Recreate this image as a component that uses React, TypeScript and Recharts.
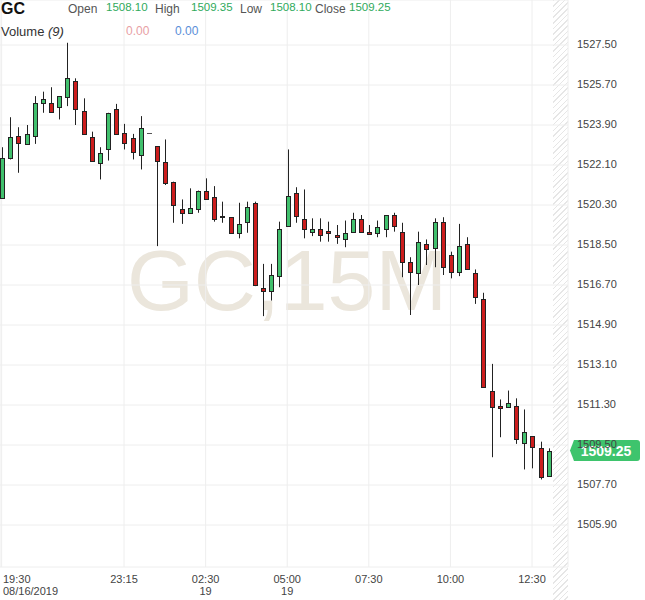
import React from 'react';
import { ComposedChart, Bar, XAxis, YAxis, CartesianGrid, ReferenceLine } from 'recharts';

const opens = [
  1520.6, 1522.4, 1523.4, 1523.05, 1523.4, 1524.9, 1524.9, 1524.7, 1525.15, 1525.9,
  1524.55, 1523.35, 1522.2, 1522.8, 1524.6, 1523.55, 1523.3, 1522.55, 1523.5, 1522.95,
  1522.25, 1521.35, 1520.1, 1519.95, 1520.1, 1520.95, 1520.65, 1519.8, 1519.75, 1519.05,
  1519.55, 1520.4, 1516.55, 1516.45, 1517.1, 1519.35, 1520.85, 1519.65, 1519.1, 1519.2,
  1519.15, 1518.95, 1518.75, 1519.1, 1519.65, 1519.1, 1519.05, 1519.2, 1519.85, 1519.1,
  1517.75, 1517.25, 1518.55, 1518.35, 1519.55, 1518.05, 1517.3, 1518.55, 1517.25, 1516.05,
  1511.95, 1511.25, 1511.2, 1511.25, 1509.6, 1509.9, 1509.35, 1508.1,
];
const highs = [
  1522.9, 1524.25, 1523.8, 1523.9, 1525.2, 1525.4, 1525.6, 1525.2, 1527.6, 1526.0,
  1525.1, 1523.6, 1522.9, 1524.45, 1524.85, 1523.95, 1523.5, 1524.3, 1523.52, 1522.95,
  1523.25, 1521.35, 1520.55, 1521.05, 1520.95, 1521.5, 1521.15, 1520.45, 1519.75, 1520.4,
  1520.45, 1520.45, 1517.65, 1517.65, 1519.55, 1522.8, 1521.1, 1521.0, 1519.7, 1519.7,
  1519.55, 1519.4, 1519.6, 1519.95, 1519.85, 1519.4, 1519.6, 1519.85, 1519.95, 1519.5,
  1517.95, 1519.1, 1518.75, 1519.7, 1519.75, 1518.2, 1519.45, 1518.85, 1517.4, 1516.35,
  1513.15, 1511.55, 1511.95, 1511.6, 1511.1, 1509.9, 1509.65, 1509.35,
];
const lows = [
  1520.6, 1522.35, 1521.75, 1523.0, 1523.05, 1524.45, 1524.5, 1524.15, 1524.75, 1523.9,
  1523.5, 1522.3, 1521.45, 1522.3, 1523.45, 1522.8, 1522.35, 1521.9, 1523.48, 1518.45,
  1521.2, 1519.5, 1519.45, 1519.9, 1519.95, 1520.55, 1519.55, 1519.5, 1519.0, 1518.8,
  1519.05, 1516.65, 1515.3, 1516.0, 1516.6, 1519.35, 1519.5, 1518.8, 1518.9, 1518.65,
  1518.65, 1518.55, 1518.4, 1519.1, 1519.05, 1519.0, 1518.85, 1518.85, 1519.1, 1517.05,
  1515.35, 1516.7, 1517.6, 1517.5, 1517.15, 1517.0, 1517.1, 1517.4, 1515.85, 1512.1,
  1508.95, 1509.85, 1511.2, 1509.55, 1508.4, 1508.45, 1507.95, 1508.1,
];
const closes = [
  1522.4, 1523.35, 1523.1, 1523.5, 1524.9, 1525.05, 1524.5, 1525.2, 1526.0, 1524.6,
  1523.5, 1522.3, 1522.65, 1524.45, 1523.5, 1523.1, 1522.7, 1523.75, 1523.5, 1522.3,
  1521.3, 1520.3, 1519.95, 1520.15, 1520.95, 1520.55, 1519.65, 1519.75, 1519.05, 1519.45,
  1520.2, 1516.7, 1516.45, 1517.15, 1519.2, 1520.7, 1519.8, 1519.2, 1519.2, 1518.95,
  1519.05, 1518.85, 1519.05, 1519.65, 1519.1, 1519.0, 1519.3, 1519.85, 1519.35, 1517.75,
  1517.3, 1518.65, 1518.3, 1519.55, 1517.5, 1517.3, 1518.45, 1517.4, 1516.15, 1512.1,
  1511.2, 1511.15, 1511.4, 1509.75, 1510.1, 1509.4, 1508.05, 1509.25,
];

const timeTickIndex = [0, 15, 25, 35, 45, 55, 65];
const timeTickLabels = ['19:30', '23:15', '02:30', '05:00', '07:30', '10:00', '12:30'];
const dateTickLabels = ['08/16/2019', '', '19', '19', '', '', ''];
const priceTicks = [1505.9, 1507.7, 1509.5, 1511.3, 1513.1, 1514.9, 1516.7, 1518.5, 1520.3, 1522.1, 1523.9, 1525.7, 1527.5];

const data = opens.map((o, i) => ({ i, o, h: highs[i], l: lows[i], c: closes[i], range: [lows[i], highs[i]] }));
const last = data[data.length - 1];

const GREEN = '#41c06d';
const RED = '#cc1d1d';
const FONT = 'Arial, "Liberation Sans", sans-serif';

const Candle = (props: any) => {
  const { x, y, width, height, payload } = props;
  if (x == null || y == null || !payload) return null;
  const cx = Math.round(x + width / 2) + 0.5;
  const { o, h, l, c } = payload;
  const span = h - l;
  const k = span > 0 ? height / span : 0;
  const yO = y + (h - o) * k;
  const yC = y + (h - c) * k;
  const up = c >= o;
  const top = Math.round(Math.min(yO, yC)) + 0.5;
  const bot = Math.round(Math.max(yO, yC)) + 0.5;
  if (span < 0.1 && o === c) {
    return <line x1={cx - 2.5} x2={cx + 2.5} y1={Math.round(y) + 0.5} y2={Math.round(y) + 0.5} stroke="#555" strokeWidth={1} />;
  }
  return (
    <g>
      <line x1={cx} x2={cx} y1={y} y2={y + height} stroke="#222" strokeWidth={1} />
      <rect x={cx - 2} y={top} width={4} height={Math.max(bot - top, 1)} fill={up ? GREEN : RED} stroke="#222" strokeWidth={1} />
    </g>
  );
};

const PriceTick = (props: any) => {
  const { x, y, payload } = props;
  return (
    <text x={x + 1} y={y + 3} fontSize={11} fill="#444" fontFamily={FONT} textAnchor="start">
      {Number(payload.value).toFixed(2)}
    </text>
  );
};

const TimeTick = (props: any) => {
  const { x, y, payload } = props;
  const idx = timeTickIndex.indexOf(payload.value);
  const first = idx === 0;
  const tx = first ? 3 : x;
  const anchor = first ? 'start' : 'middle';
  return (
    <g>
      <text x={tx} y={y + 8} fontSize={11} fill="#444" fontFamily={FONT} textAnchor={anchor}>
        {timeTickLabels[idx]}
      </text>
      {dateTickLabels[idx] ? (
        <text x={tx} y={y + 20} fontSize={11} fill="#444" fontFamily={FONT} textAnchor={anchor}>
          {dateTickLabels[idx]}
        </text>
      ) : null}
    </g>
  );
};

const PriceLabel = (props: any) => {
  const vb = props.viewBox || {};
  const yy = vb.y;
  const x0 = vb.x + vb.width + 2;
  const hH = 10.5;
  const path = `M ${x0} ${yy} L ${x0 + 4} ${yy - hH} L ${x0 + 67} ${yy - hH} Q ${x0 + 70} ${yy - hH} ${x0 + 70} ${yy - hH + 3} L ${x0 + 70} ${yy + hH - 3} Q ${x0 + 70} ${yy + hH} ${x0 + 67} ${yy + hH} L ${x0 + 4} ${yy + hH} Z`;
  return (
    <g>
      <path d={path} fill="#3ec46d" />
      <text x={x0 + 36} y={yy + 5} fontSize={14} fontWeight="bold" fill="#fff" fontFamily={FONT} textAnchor="middle">
        {last.c.toFixed(2)}
      </text>
    </g>
  );
};

export default function App() {
  return (
    <div style={{ position: 'absolute', left: 0, top: 0, width: 645, height: 600, background: '#fff', overflow: 'hidden' }}>
      <div
        style={{
          position: 'absolute', left: 553, top: 0, width: 15, height: 600,
          background: 'repeating-linear-gradient(135deg, #e6e6e6 0px, #e6e6e6 1px, transparent 1px, transparent 4px)',
        }}
      />
      <svg width={645} height={600} style={{ position: 'absolute', left: 0, top: 0 }}>
        <text x={287} y={310} fontSize={86} textAnchor="middle" fill="#ebe6dc" fontFamily={FONT}>GC,15M</text>
      </svg>
      <div style={{ position: 'absolute', left: 0, top: 0 }}>
        <ComposedChart width={645} height={600} data={data} margin={{ top: 0, right: 0, bottom: 0, left: 0 }}>
          <CartesianGrid stroke="#eeeeee" />
          <XAxis
            dataKey="i"
            type="number"
            domain={[-0.2, 69.41]}
            ticks={timeTickIndex}
            height={33}
            axisLine={false}
            tickLine={false}
            tick={<TimeTick />}
            interval={0}
            allowDataOverflow
          />
          <YAxis
            orientation="right"
            width={77}
            domain={[1504.01, 1529.525]}
            ticks={priceTicks}
            axisLine={false}
            tickLine={false}
            tick={<PriceTick />}
            interval={0}
            allowDataOverflow
          />
          <Bar dataKey="range" barSize={5} shape={<Candle />} isAnimationActive={false} />
          <ReferenceLine y={last.c} stroke="none" label={(p: any) => <PriceLabel {...p} />} />
        </ComposedChart>
      </div>
      <svg width={645} height={45} style={{ position: 'absolute', left: 0, top: 0 }}>
        <g fontFamily={FONT}>
          <text x={1} y={14} fontSize={16} fontWeight="bold" fill="#111">GC</text>
          <text x={68} y={13} fontSize={12} fill="#555">Open</text>
          <text x={106} y={11} fontSize={11.5} fill="#2faa5c">{opens[opens.length - 1].toFixed(2)}</text>
          <text x={155} y={13} fontSize={12} fill="#555">High</text>
          <text x={191} y={11} fontSize={11.5} fill="#2faa5c">{highs[highs.length - 1].toFixed(2)}</text>
          <text x={240} y={13} fontSize={12} fill="#555">Low</text>
          <text x={270} y={11} fontSize={11.5} fill="#2faa5c">{lows[lows.length - 1].toFixed(2)}</text>
          <text x={315} y={13} fontSize={12} fill="#555">Close</text>
          <text x={349} y={11} fontSize={11.5} fill="#2faa5c">{closes[closes.length - 1].toFixed(2)}</text>
          <text x={1} y={36} fontSize={13} fill="#333">Volume <tspan fontStyle="italic">(9)</tspan></text>
          <text x={126} y={35} fontSize={12} fill="#e8a0a4">0.00</text>
          <text x={175} y={35} fontSize={12} fill="#5a8ed8">0.00</text>
        </g>
      </svg>
    </div>
  );
}
